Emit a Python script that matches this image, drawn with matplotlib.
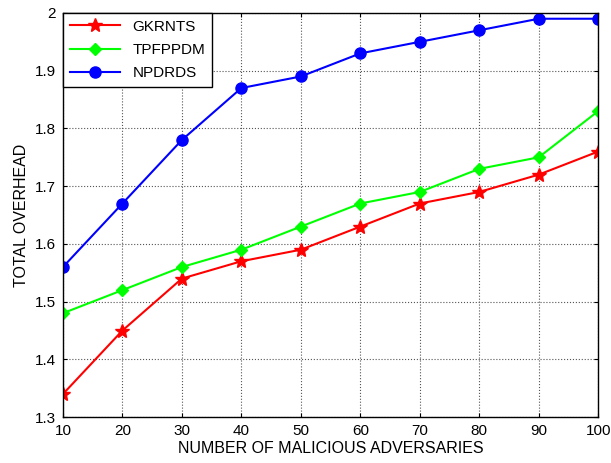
import matplotlib
matplotlib.use("Agg")
import matplotlib.pyplot as plt

plt.rcParams["font.family"] = ["Liberation Sans", "DejaVu Sans"]

adversaries = [10, 20, 30, 40, 50, 60, 70, 80, 90, 100]
gkrnts = [1.34, 1.45, 1.54, 1.57, 1.59, 1.63, 1.67, 1.69, 1.72, 1.76]
tpfppdm = [1.48, 1.52, 1.56, 1.59, 1.63, 1.67, 1.69, 1.73, 1.75, 1.83]
npdrds = [1.56, 1.67, 1.78, 1.87, 1.89, 1.93, 1.95, 1.97, 1.99, 1.99]

fig = plt.figure(figsize=(6.11, 4.63), dpi=100)
ax = fig.add_axes([0.103, 0.099, 0.876, 0.873])

ax.plot(adversaries, gkrnts, color="red", marker="*", markersize=10, linewidth=1.5, label="GKRNTS")
ax.plot(adversaries, tpfppdm, color="#00ff00", marker="D", markersize=6, linewidth=1.5, label="TPFPPDM")
ax.plot(adversaries, npdrds, color="blue", marker="o", markersize=8, linewidth=1.5, label="NPDRDS")

ax.set_xlim(10, 100)
ax.set_ylim(1.3, 2.0)
ax.set_xticks(adversaries)
ax.set_yticks([1.3, 1.4, 1.5, 1.6, 1.7, 1.8, 1.9, 2.0])
ax.set_yticklabels(["1.3", "1.4", "1.5", "1.6", "1.7", "1.8", "1.9", "2"])
ax.tick_params(direction="in", labelsize=11, length=3, top=True, right=True, pad=5)
ax.grid(True, linestyle=":", color="#555555", linewidth=0.8)
for s in ax.spines.values():
    s.set_linewidth(1.0)

ax.set_xlabel("NUMBER OF MALICIOUS ADVERSARIES", fontsize=11.5, labelpad=2)
ax.set_ylabel("TOTAL OVERHEAD", fontsize=11.5, labelpad=4)

leg = ax.legend(loc="upper left", fontsize=11, fancybox=False, framealpha=1,
                edgecolor="black", borderaxespad=0, handlelength=3.3,
                labelspacing=0.6, borderpad=0.45)
leg.get_frame().set_linewidth(1.0)

fig.savefig("out.png", dpi=100)
